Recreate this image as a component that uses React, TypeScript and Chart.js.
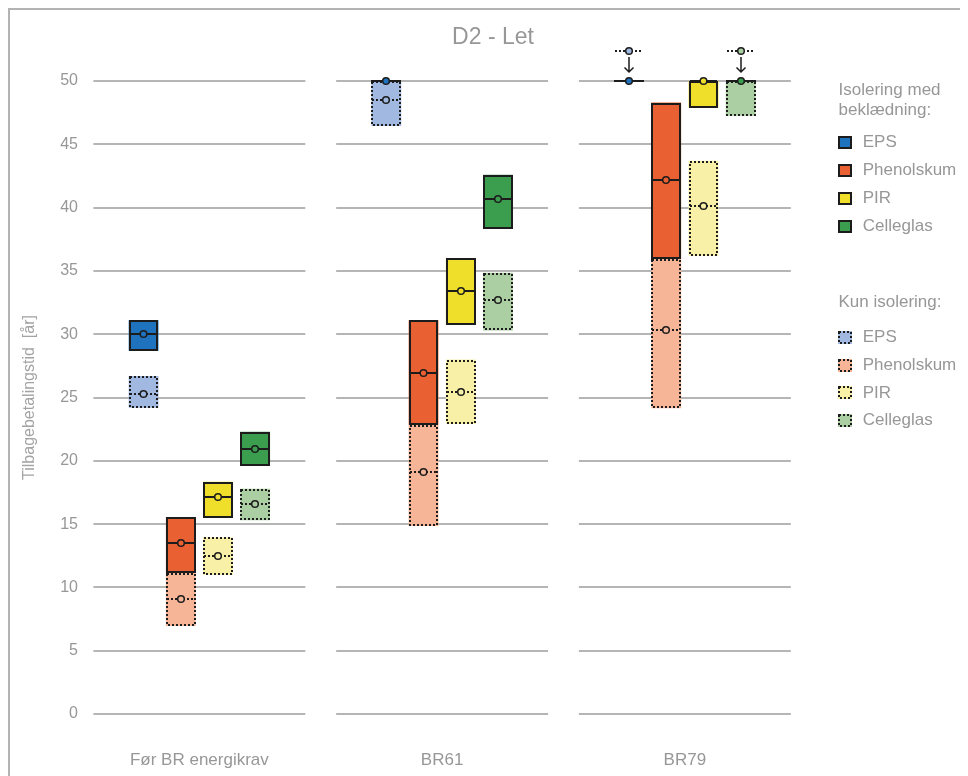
import React, { useEffect, useRef } from 'react';
import { Chart, registerables } from 'chart.js';

Chart.register(...registerables);

// ---------- data ----------
const categories = ['Før BR energikrav', 'BR61', 'BR79'];
const chartTitle = 'D2 - Let';
const yAxisTitle = 'Tilbagebetalingstid  [år]';
const yMin = 0;
const yMax = 50;
const yStep = 5;

const legendHeadingWith = ['Isolering med', 'beklædning:'];
const legendHeadingOnly = ['Kun isolering:'];
const materials = ['EPS', 'Phenolskum', 'PIR', 'Celleglas'];

// "Isolering med beklædning" (solid boxes): [low, high] and midpoint
const epsWithRange = [[28.7, 31.1], [50, 50], [50, 50]];
const epsWithMid = [30.0, 50, 50];
const phenolWithRange = [[11.15, 15.55], [22.85, 31.1], [35.95, 48.3]];
const phenolWithMid = [13.5, 26.95, 42.2];
const pirWithRange = [[15.5, 18.35], [30.75, 36.0], [47.9, 50]];
const pirWithMid = [17.15, 33.4, 50];
const cellWithRange = [[19.6, 22.3], [38.3, 42.6], [50, 50]];
const cellWithMid = [20.9, 40.7, 50];

// "Kun isolering" (dashed boxes)
const epsOnlyRange = [[24.2, 26.7], [46.45, 50], null];
const epsOnlyMid = [25.25, 48.5, 52.4];
const phenolOnlyRange = [[6.95, 11.15], [14.85, 22.85], [24.15, 35.95]];
const phenolOnlyMid = [9.1, 19.1, 30.35];
const pirOnlyRange = [[11.0, 13.95], [22.9, 28.0], [36.2, 43.7]];
const pirOnlyMid = [12.5, 25.45, 40.1];
const cellOnlyRange = [[15.3, 17.8], [30.3, 34.85], [47.25, 50]];
const cellOnlyMid = [16.55, 32.7, 52.4];

// ---------- styles ----------
const FONT = "'Liberation Sans', Arial, sans-serif";
const TEXT = '#979797';
const EDGE = '#1c1c1c';
const GRID = '#b5b5b5';
const solidColors = ['#1f72bd', '#e96033', '#efdf2a', '#3b9e4f'];
const lightColors = ['#a1b9e1', '#f7b598', '#f8f0a6', '#abcfa3'];

const withRanges = [epsWithRange, phenolWithRange, pirWithRange, cellWithRange];
const withMids = [epsWithMid, phenolWithMid, pirWithMid, cellWithMid];
const onlyRanges = [epsOnlyRange, phenolOnlyRange, pirOnlyRange, cellOnlyRange];
const onlyMids = [epsOnlyMid, phenolOnlyMid, pirOnlyMid, cellOnlyMid];

const CANVAS_W = 950;
const CANVAS_H = 766;

const gridPlugin = {
  id: 'segmentGrid',
  beforeDatasetsDraw(chart: any) {
    const { ctx, scales } = chart;
    const x = scales.x;
    const y = scales.y;
    const catW = x.getPixelForValue(1) - x.getPixelForValue(0);
    const half = catW * 0.873 / 2;
    ctx.save();
    ctx.strokeStyle = GRID;
    ctx.lineWidth = 2;
    y.ticks.forEach((t: any) => {
      const py = Math.round(y.getPixelForValue(t.value));
      categories.forEach((_, i) => {
        const cx = x.getPixelForValue(i);
        ctx.beginPath();
        ctx.moveTo(cx - half, py);
        ctx.lineTo(cx + half, py);
        ctx.stroke();
      });
    });
    ctx.restore();
  },
};

const decorPlugin = {
  id: 'boxDecor',
  afterDatasetsDraw(chart: any) {
    const { ctx, scales } = chart;
    const y = scales.y;
    const capPx = Math.round(y.getPixelForValue(y.max));
    const datasets = chart.data.datasets;
    const geom = (di: number, i: number) => {
      const el = chart.getDatasetMeta(di).data[i];
      let cx = el ? el.x : NaN;
      let w = el ? el.width : NaN;
      if (!isFinite(cx) || !isFinite(w)) {
        const alt = chart.getDatasetMeta(datasets[di].partner).data[i];
        cx = alt.x;
        w = alt.width;
      }
      const l = Math.round(cx - w / 2);
      const r = Math.round(cx + w / 2);
      return { l, r, cx: (l + r) / 2, w: r - l };
    };
    [true, false].forEach((dashedPass) => {
      datasets.forEach((ds: any, di: number) => {
        if (!!ds.dashed !== dashedPass) return;
        ds.data.forEach((r: any, i: number) => {
          const { l, r: rr, cx, w } = geom(di, i);
          ctx.save();
          ctx.strokeStyle = EDGE;
          ctx.setLineDash(ds.dashed ? [2, 2] : []);
          if (r) {
            const top = Math.round(y.getPixelForValue(r[1]));
            const bot = Math.round(y.getPixelForValue(r[0]));
            ctx.lineWidth = 2;
            if (Math.abs(bot - top) < 1) {
              ctx.beginPath();
              ctx.moveTo(l, top);
              ctx.lineTo(rr, top);
              ctx.stroke();
            } else {
              ctx.strokeRect(l + 1, top + 1, w - 2, bot - top - 2);
            }
          }
          const m = ds.mid[i];
          if (m != null) {
            const my = Math.round(y.getPixelForValue(m));
            ctx.lineWidth = 2;
            ctx.beginPath();
            ctx.moveTo(l + 1, my);
            ctx.lineTo(rr - 1, my);
            ctx.stroke();
            if (m > y.max) {
              ctx.setLineDash([]);
              ctx.lineWidth = 1.5;
              const tip = capPx - 9;
              ctx.beginPath();
              ctx.moveTo(cx, my + 6);
              ctx.lineTo(cx, tip);
              ctx.moveTo(cx - 4.5, tip - 4.5);
              ctx.lineTo(cx, tip);
              ctx.lineTo(cx + 4.5, tip - 4.5);
              ctx.stroke();
            }
          }
          ctx.restore();
        });
      });
    });
    [true, false].forEach((dashedPass) => {
      datasets.forEach((ds: any, di: number) => {
        if (!!ds.dashed !== dashedPass) return;
        ds.mid.forEach((m: any, i: number) => {
          if (m == null) return;
          const { cx } = geom(di, i);
          const my = Math.round(y.getPixelForValue(m));
          ctx.save();
          ctx.beginPath();
          ctx.arc(cx, my, 3.3, 0, Math.PI * 2);
          ctx.fillStyle = ds.backgroundColor;
          ctx.fill();
          ctx.lineWidth = 1.5;
          ctx.strokeStyle = EDGE;
          ctx.stroke();
          ctx.restore();
        });
      });
    });
  },
};

const textPlugin = {
  id: 'titleLegend',
  afterDraw(chart: any) {
    const { ctx } = chart;
    ctx.save();
    ctx.fillStyle = TEXT;
    ctx.textBaseline = 'middle';
    ctx.textAlign = 'center';
    ctx.font = `23px ${FONT}`;
    ctx.fillText(chartTitle, 483, 28);

    ctx.textAlign = 'left';
    ctx.font = `17px ${FONT}`;
    legendHeadingWith.forEach((line, k) => ctx.fillText(line, 828.5, 80 + k * 20));
    legendHeadingOnly.forEach((line, k) => ctx.fillText(line, 828.5, 292.7 + k * 20));

    const drawItems = (startY: number, colors: string[], dashed: boolean) => {
      materials.forEach((name, k) => {
        const cy = startY + k * 27.8;
        const top = Math.round(cy - 6.5);
        ctx.fillStyle = colors[k];
        ctx.fillRect(828, top, 14, 13);
        ctx.save();
        ctx.strokeStyle = EDGE;
        ctx.lineWidth = 2;
        ctx.setLineDash(dashed ? [2, 2] : []);
        ctx.strokeRect(829, top + 1, 12, 11);
        ctx.restore();
        ctx.fillStyle = TEXT;
        ctx.fillText(name, 852.7, cy);
      });
    };
    drawItems(132.7, solidColors, false);
    drawItems(327.3, lightColors, true);
    ctx.restore();
  },
};

export default function App() {
  const ref = useRef<HTMLCanvasElement | null>(null);

  useEffect(() => {
    document.documentElement.style.overflow = 'hidden';
    document.body.style.overflow = 'hidden';
    if (!ref.current) return;
    const solidSets = materials.map((name, k) => ({
      type: 'bar' as const,
      label: name,
      data: withRanges[k],
      mid: withMids[k],
      dashed: false,
      partner: k + 4,
      stack: name,
      backgroundColor: solidColors[k],
      borderWidth: 0,
      categoryPercentage: 0.613,
      barPercentage: 0.8,
    }));
    const dashedSets = materials.map((name, k) => ({
      type: 'bar' as const,
      label: name + ' (kun isolering)',
      data: onlyRanges[k],
      mid: onlyMids[k],
      dashed: true,
      partner: k,
      stack: name,
      backgroundColor: lightColors[k],
      borderWidth: 0,
      categoryPercentage: 0.613,
      barPercentage: 0.8,
    }));

    const chart = new Chart(ref.current, {
      type: 'bar',
      data: {
        labels: categories,
        datasets: [...solidSets, ...dashedSets] as any,
      },
      options: {
        responsive: false,
        animation: false,
        layout: { padding: { top: 71, right: 153.75, bottom: 0, left: 0 } },
        plugins: {
          legend: { display: false },
          tooltip: { enabled: false },
          title: { display: false },
        },
        scales: {
          x: {
            type: 'category',
            grid: { display: false, drawTicks: false },
            border: { display: false },
            ticks: {
              font: { size: 17, family: FONT },
              color: TEXT,
              padding: 36,
              maxRotation: 0,
              autoSkip: false,
            },
            afterFit: (s: any) => {
              s.height = 62;
            },
          },
          y: {
            min: yMin,
            max: yMax,
            stacked: false,
            grid: { display: false, drawTicks: false },
            border: { display: false },
            ticks: {
              stepSize: yStep,
              font: { size: 16, family: FONT },
              color: TEXT,
              padding: 0,
            },
            title: {
              display: true,
              text: yAxisTitle,
              font: { size: 16, family: FONT },
              color: '#a3a3a3',
              padding: { top: 10, bottom: 0 },
            },
            afterFit: (s: any) => {
              s.width = 68;
            },
          },
        },
      } as any,
      plugins: [gridPlugin, decorPlugin, textPlugin],
    });
    return () => chart.destroy();
  }, []);

  return (
    <div
      style={{
        borderLeft: '2px solid #b3b3b3',
        borderTop: '2px solid #b3b3b3',
        width: CANVAS_W,
        height: CANVAS_H,
      }}
    >
      <canvas
        ref={ref}
        width={CANVAS_W}
        height={CANVAS_H}
        style={{ display: 'block', width: CANVAS_W, height: CANVAS_H }}
      />
    </div>
  );
}
